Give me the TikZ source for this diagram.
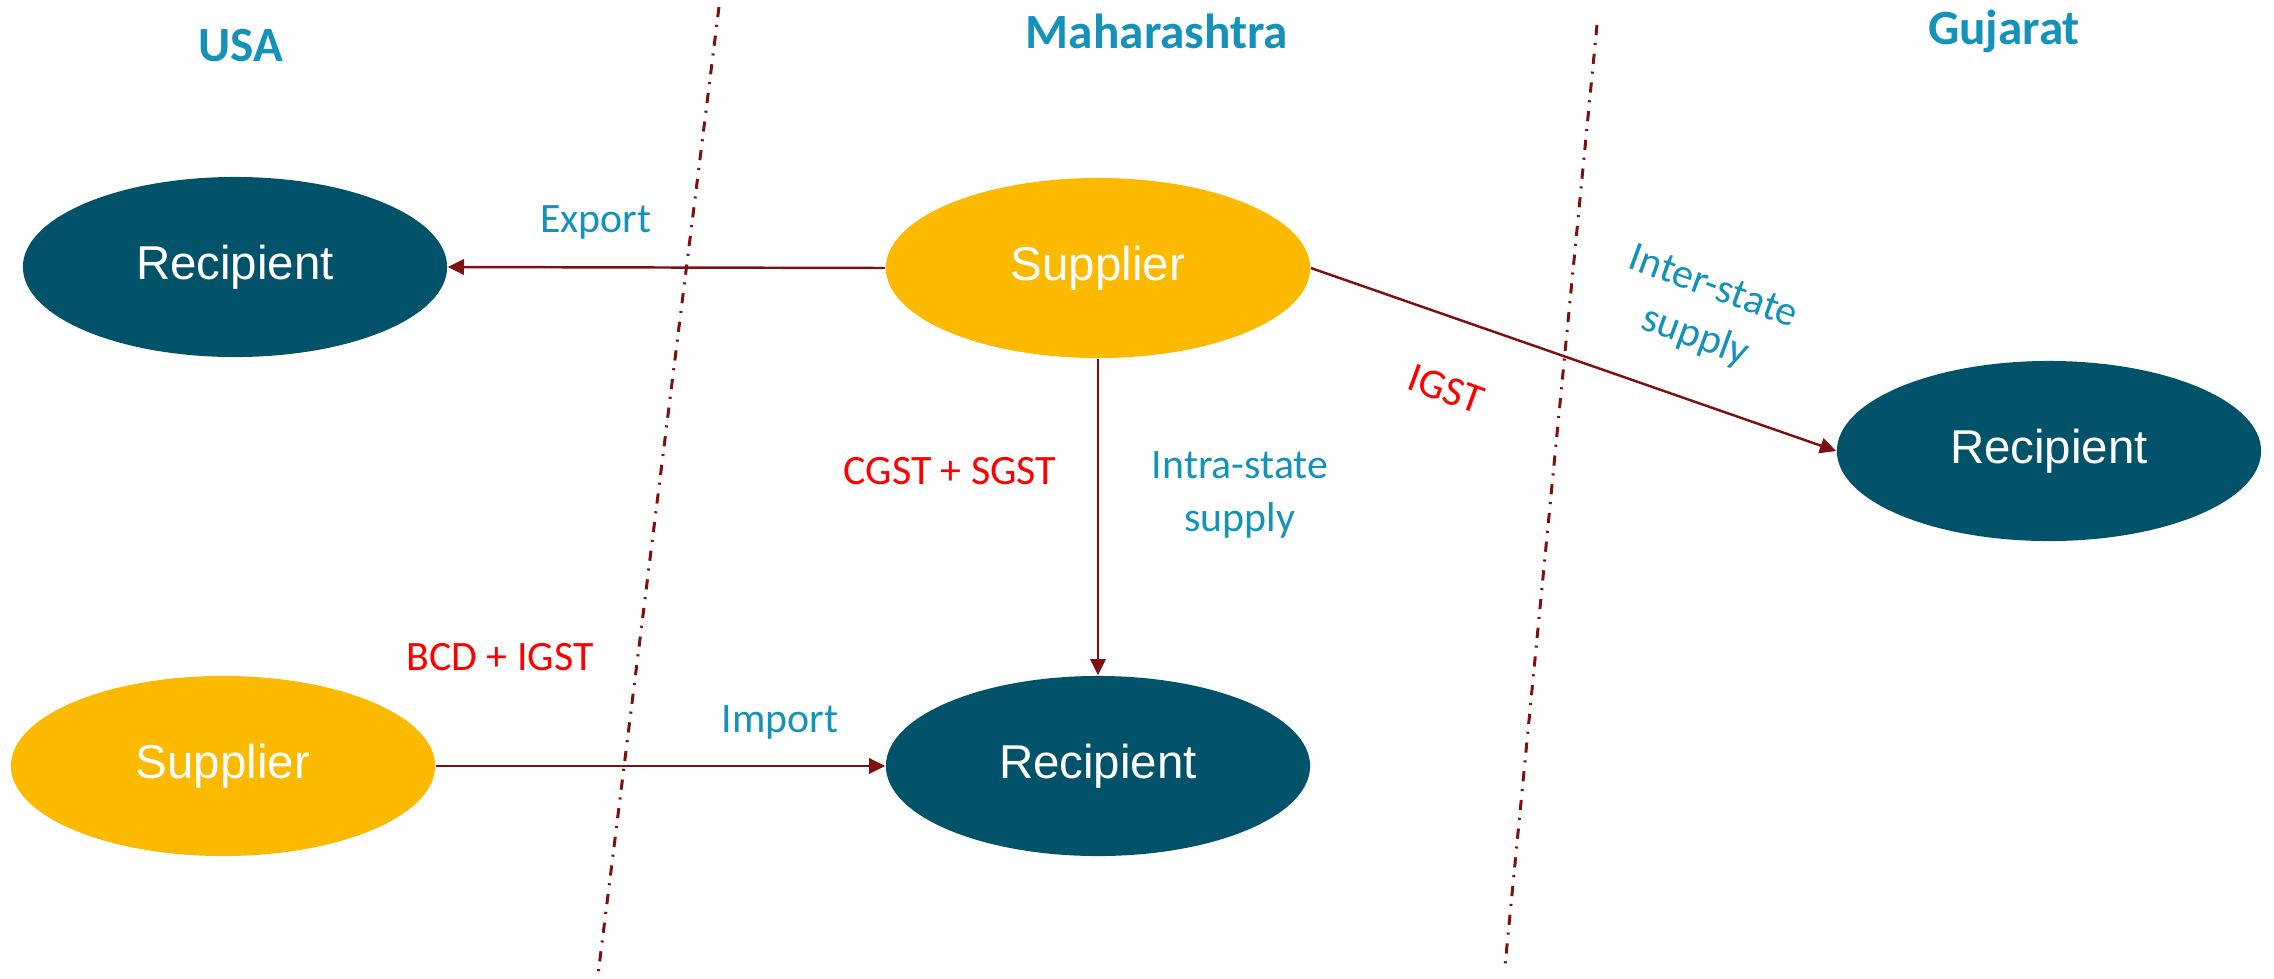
\documentclass[tikz,border=0pt]{standalone}
\usepackage{fontspec}
\setmainfont{Carlito}
\newfontfamily\arialfont{Liberation Sans}
\usetikzlibrary{shapes.geometric,arrows.meta}
\definecolor{teal}{HTML}{02536A}
\definecolor{gold}{HTML}{FBB900}
\definecolor{flow}{HTML}{7F1010}
\definecolor{lblue}{HTML}{1592BA}
\definecolor{taxred}{HTML}{FF0000}
\tikzset{
    party/.style={ellipse,minimum width=4.24cm,minimum height=1.8cm,inner sep=0pt,
        font=\arialfont\fontsize{13.5}{16}\selectfont,text=white},
    rec/.style={party,fill=teal},
    sup/.style={party,fill=gold},
    flowarrow/.style={draw=flow,line width=0.7pt,-{Triangle[length=4.6pt,width=4.4pt]}},
    border/.style={draw=flow,line width=0.85pt,dash pattern=on 2.9pt off 2.2pt on 0.6pt off 2.5pt},
    region/.style={font=\bfseries\fontsize{14}{17}\selectfont,text=lblue},
    kind/.style={font=\fontsize{11.9}{15}\selectfont,text=lblue,align=center},
    tax/.style={font=\fontsize{11.9}{15}\selectfont,text=taxred}
}
\begin{document}
\begin{tikzpicture}[x=0.01cm,y=-0.01cm]
    \useasboundingbox (0,0) rectangle (2274,978);
    % state borders
    \coordinate (b1top) at (719,7);
    \coordinate (b1bot) at (598,975);
    \coordinate (b2top) at (1597,25);
    \coordinate (b2bot) at (1505,966);
    \draw[border] (b1top) -- (b1bot);
    \draw[border] (b2top) -- (b2bot);

    % regions
    \node[region] (usa) at (241,46) {USA};
    \node[region] (mh) at (1157,31) {Maharashtra};
    \node[region] (gj) at (2004,31) {Gujarat};

    % parties
    \node[rec] (recUSA) at (235,267) {Recipient};
    \node[sup] (supMH) at (1098,268) {Supplier};
    \node[rec] (recGJ) at (2049,451) {Recipient};
    \node[sup] (supUSA) at (223,766) {Supplier};
    \node[rec] (recMH) at (1098,766) {Recipient};

    % flows
    \draw[flowarrow] (supMH.west) -- (recUSA.east);
    \draw[flowarrow] (supMH.east) -- (recGJ.west);
    \draw[flowarrow] (supMH.south) -- (recMH.north);
    \draw[flowarrow] (supUSA.east) -- (recMH.west);

    % labels
    \node[kind] (export) at (596,222) {Export};
    \node[kind,rotate=-20] (inter) at (1704,313) {Inter-state\\supply};
    \node[tax,rotate=-20] (igst) at (1446,389) {IGST};
    \node[tax] (cgst) at (950,471) {CGST + SGST};
    \node[kind] (intra) at (1240,495) {Intra-state\\supply};
    \node[tax] (bcd) at (500,657) {BCD + IGST};
    \node[kind] (import) at (780,722) {Import};
\end{tikzpicture}
\end{document}
